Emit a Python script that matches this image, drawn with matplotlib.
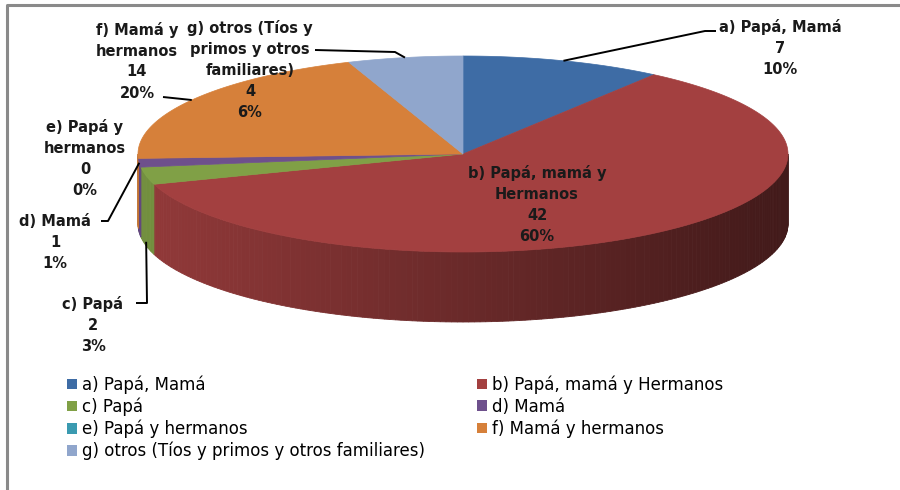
import numpy as np
import matplotlib.pyplot as plt
from matplotlib.patches import Polygon, Patch
from matplotlib.colors import to_rgb

# ─── data ────────────────────────────────────────────────────────────
categories = ['a) Papá, Mamá', 'b) Papá, mamá y Hermanos', 'c) Papá', 'd) Mamá',
              'e) Papá y hermanos', 'f) Mamá y hermanos',
              'g) otros (Tíos y primos y otros familiares)']
wrapped = ['a) Papá, Mamá', 'b) Papá, mamá y\nHermanos', 'c) Papá', 'd) Mamá',
           'e) Papá y\nhermanos', 'f) Mamá y\nhermanos',
           'g) otros (Tíos y\nprimos y otros\nfamiliares)']
values = [7, 42, 2, 1, 0, 14, 4]
colors = ['#3E6CA5', '#A34040', '#80A046', '#6E508C', '#3A9AB0', '#D6803A', '#90A6CC']

# ─── layout (pixels) ─────────────────────────────────────────────────
cx, cy, rx, ry, depth = 463, 154, 325, 98, 70
lab_pos = [(780, 48), (537, 204), (93, 325), (55, 242), (85, 158), (137, 61), (250, 70)]
leader_pts = {0: [(716, 31), (705, 31)], 2: [(136, 303), (147, 303)],
              3: [(101, 221), (108, 221)], 5: [(163, 97)], 6: [(315, 50), (395, 52)]}
anchor_dz = {2: 66}

plt.rcParams['font.family'] = ['DejaVu Sans']
fig = plt.figure(figsize=(9, 4.9), dpi=100)
ax = fig.add_axes([0, 0, 1, 1])
ax.set_xlim(0, 900)
ax.set_ylim(490, 0)
ax.axis('off')


def rim(theta, dz=0.0):
    t = np.radians(theta)
    return cx + rx * np.sin(t), cy - ry * np.cos(t) + dz


total = sum(values)
angles = np.concatenate([[0], np.cumsum(values) / total * 360])

# side walls (front half only), shaded left -> right
for i, v in enumerate(values):
    if v == 0:
        continue
    s, e = max(angles[i], 90), min(angles[i + 1], 270)
    if e <= s:
        continue
    base = np.array(to_rgb(colors[i]))
    ts = np.linspace(s, e, max(int(e - s) + 2, 2))
    for t0, t1 in zip(ts[:-1], ts[1:]):
        x0, y0 = rim(t0)
        x1, y1 = rim(t1)
        xm = (x0 + x1) / 2
        shade = 0.9 - 0.5 * (xm - (cx - rx)) / (2 * rx)
        c = np.clip(base * shade, 0, 1)
        ax.add_patch(Polygon([(x0, y0), (x1, y1), (x1, y1 + depth), (x0, y0 + depth)],
                             closed=True, fc=c, ec=c, lw=0.6))

# top faces
for i, v in enumerate(values):
    if v == 0:
        continue
    ts = np.linspace(angles[i], angles[i + 1], max(int(angles[i + 1] - angles[i]) * 2 + 2, 3))
    pts = [(cx, cy)] + [rim(t) for t in ts]
    ax.add_patch(Polygon(pts, closed=True, fc=colors[i], ec=colors[i], lw=0.5))

# data labels + leader lines
for i, v in enumerate(values):
    pct = round(v / total * 100)
    x, y = lab_pos[i]
    ax.text(x, y, f'{wrapped[i]}\n{v}\n{pct}%', ha='center', va='center',
            multialignment='center', fontsize=10.5, fontweight='bold',
            linespacing=1.5, color='#1a1a1a')
    if i in leader_pts:
        mid = (angles[i] + angles[i + 1]) / 2
        ax_, ay_ = rim(mid, anchor_dz.get(i, 0))
        pts = leader_pts[i] + [(ax_, ay_)]
        ax.plot([p[0] for p in pts], [p[1] for p in pts], color='black', lw=1.4,
                solid_capstyle='butt')

# frame
ax.plot([6.5, 6.5, 900], [490, 5, 5], color='#8a8a8a', lw=2.2, solid_capstyle='butt')

# legend, row-major order like the original
order = [0, 2, 4, 6, 1, 3, 5]
handles = [Patch(facecolor=colors[k], edgecolor='none') for k in order]
fig.legend(handles, [categories[k] for k in order], ncol=2,
           loc='upper left', bbox_to_anchor=(59 / 900, 1 - 367 / 490),
           frameon=False, fontsize=12, handlelength=0.6, handleheight=0.6,
           handletextpad=0.3, labelspacing=0.22, columnspacing=3.1, borderpad=0)

fig.savefig('out.png', dpi=100)
